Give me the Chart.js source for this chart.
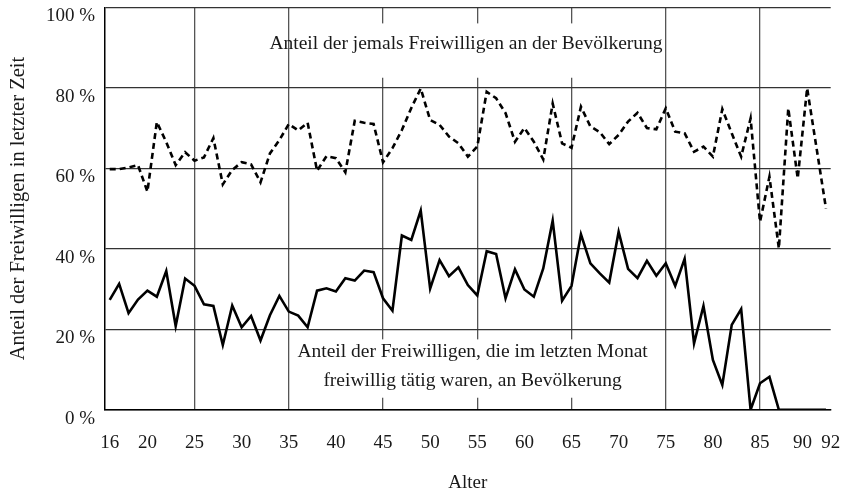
<!DOCTYPE html>
<html>
<head>
<meta charset="utf-8">
<script src="https://cdn.jsdelivr.net/npm/chart.js@4/dist/chart.umd.min.js"></script>
<style>
  html, body { margin: 0; padding: 0; background: #fff; }
  #wrap { width: 848px; height: 497px; }
</style>
</head>
<body>
<div id="wrap"><canvas id="chart"></canvas></div>
<script>
// Alter (x axis)
const ages = [16, 17, 18, 19, 20, 21, 22, 23, 24, 25, 26, 27, 28, 29, 30, 31, 32, 33, 34, 35,
  36, 37, 38, 39, 40, 41, 42, 43, 44, 45, 46, 47, 48, 49, 50, 51, 52, 53, 54, 55,
  56, 57, 58, 59, 60, 61, 62, 63, 64, 65, 66, 67, 68, 69, 70, 71, 72, 73, 74, 75,
  76, 77, 78, 79, 80, 81, 82, 83, 84, 85, 86, 87, 88, 89, 90, 91, 92];

// Anteil der jemals Freiwilligen (dashed)
const everVolunteered = [59.8, 59.8, 60.2, 60.8, 54.2, 71.5, 66.5, 60.8, 64, 61.9, 62.7, 67.5, 56, 59.6, 61.5, 61, 56.5, 63.7, 67, 71,
  69.4, 71.3, 59.4, 63, 62.5, 59, 71.8, 71.3, 71, 61.5, 65, 69.5, 75, 79.8, 72, 70.8, 67.9, 66.2, 62.9, 65.4,
  79, 77.4, 73.7, 66.6, 70, 66.6, 62.2, 76.1, 66.2, 65.1, 75.3, 70.4, 69, 66, 68.3, 71.6, 73.8, 70, 69.7, 74.9,
  69.1, 68.7, 64.1, 65.4, 62.9, 74.7, 68.7, 62.9, 72.4, 46.7, 57.9, 40.1, 74.9, 57.5, 79.9, 65, 50];

// Anteil der im letzten Monat Freiwilligen (solid)
const lastMonth = [27.3, 31.3, 24.0, 27.4, 29.6, 28.1, 34.5, 20.8, 32.6, 30.8, 26.2, 25.8, 16.1, 25.9, 20.5, 23.3, 17.2, 23.5, 28.3, 24.4,
  23.4, 20.5, 29.6, 30.2, 29.4, 32.7, 32.1, 34.6, 34.2, 27.7, 24.6, 43.3, 42.2, 49.5, 30.1, 37.2, 33.2, 35.4, 31.0, 28.4,
  39.4, 38.7, 27.7, 34.9, 29.9, 28.1, 35.1, 47.0, 27.1, 30.8, 43.6, 36.4, 33.9, 31.6, 44.2, 35.0, 32.7, 37.0, 33.3, 36.4,
  30.8, 37.5, 16.5, 25.8, 12.4, 6.2, 21.1, 25.0, 0, 6.6, 8.2, 0, 0, 0, 0, 0, 0];

const xTickValues = [16, 20, 25, 30, 35, 40, 45, 50, 55, 60, 65, 70, 75, 80, 85, 90, 92];
const xGridValues = [25, 35, 45, 55, 65, 75, 85];

const topLabel = ['Anteil der jemals Freiwilligen an der Bevölkerung'];
const bottomLabel = ['Anteil der Freiwilligen, die im letzten Monat', 'freiwillig tätig waren, an Bevölkerung'];

const FONT = '"Liberation Serif", "Times New Roman", serif';

// white boxes behind the two captions, then the captions
const captionPlugin = {
  id: 'captions',
  beforeDatasetsDraw(chart) {
    const { ctx, scales: { x, y } } = chart;
    ctx.save();
    ctx.fillStyle = '#fff';
    const x0 = x.getPixelForValue(36), x1 = x.getPixelForValue(73);
    ctx.fillRect(x0, y.getPixelForValue(96), x1 - x0, y.getPixelForValue(82.5) - y.getPixelForValue(96));
    ctx.fillRect(x0, y.getPixelForValue(17.5), x1 - x0, y.getPixelForValue(3) - y.getPixelForValue(17.5));

    ctx.fillStyle = '#1a1a1a';
    ctx.font = '19.5px ' + FONT;
    ctx.textAlign = 'center';
    ctx.textBaseline = 'middle';
    ctx.fillText(topLabel[0], x.getPixelForValue(53.8), y.getPixelForValue(91));
    ctx.fillText(bottomLabel[0], x.getPixelForValue(54.5), y.getPixelForValue(14.3));
    ctx.fillText(bottomLabel[1], x.getPixelForValue(54.5), y.getPixelForValue(7.3));
    ctx.restore();
  }
};

Chart.defaults.font.family = FONT;
Chart.defaults.font.size = 19;
Chart.defaults.color = '#1a1a1a';

new Chart(document.getElementById('chart'), {
  type: 'line',
  data: {
    datasets: [{
      label: 'jemals',
      data: ages.map((a, i) => ({ x: a, y: everVolunteered[i] })),
      borderColor: '#000',
      borderWidth: 2.6,
      borderDash: [6, 4],
      pointRadius: 0,
      tension: 0,
    }, {
      label: 'letzter Monat',
      data: ages.map((a, i) => ({ x: a, y: lastMonth[i] })),
      borderColor: '#000',
      borderWidth: 2.6,
      pointRadius: 0,
      tension: 0,
    }]
  },
  options: {
    responsive: true,
    maintainAspectRatio: false,
    animation: false,
    layout: { padding: { top: 7.3, right: 17.3, left: 0, bottom: 0 } },
    plugins: {
      legend: { display: false },
      tooltip: { enabled: false },
    },
    scales: {
      x: {
        type: 'linear',
        min: 15.5,
        max: 92.5,
        afterBuildTicks: (scale) => {
          scale.ticks = xTickValues.map(v => ({ value: v }));
        },
        afterFit: (scale) => {
          scale.height = 87.2;
          scale.paddingLeft = 0;
          scale.paddingRight = 0;
        },
        ticks: {
          padding: 22,
          maxRotation: 0,
          autoSkip: false,
          // 90 and 92 sit close together, nudge them apart a little
          callback: (v) => v === 90 ? '90  ' : v === 92 ? '  92' : String(v),
        },
        grid: {
          drawTicks: false,
          color: (ctx) => (ctx.tick && xGridValues.includes(ctx.tick.value)) ? '#555' : 'rgba(0,0,0,0)',
          lineWidth: 1.3,
        },
        border: { color: '#000', width: 1.5 },
        title: {
          display: true,
          text: 'Alter',
          padding: { top: 0, bottom: 3 },
        },
      },
      y: {
        min: 0,
        max: 100,
        afterFit: (scale) => {
          scale.width = 105;
          scale.paddingTop = 0;
          scale.paddingBottom = 0;
        },
        ticks: {
          stepSize: 20,
          padding: 10,
          labelOffset: 9,
          callback: (v) => v + ' %',
        },
        grid: {
          drawTicks: false,
          color: '#333',
          lineWidth: 1.3,
        },
        border: { color: '#000', width: 1.5 },
        title: {
          display: true,
          text: 'Anteil der Freiwilligen in letzter Zeit',
          font: { size: 20.5 },
          padding: { top: 6, bottom: 0 },
        },
      }
    }
  },
  plugins: [captionPlugin]
});
</script>
</body>
</html>
